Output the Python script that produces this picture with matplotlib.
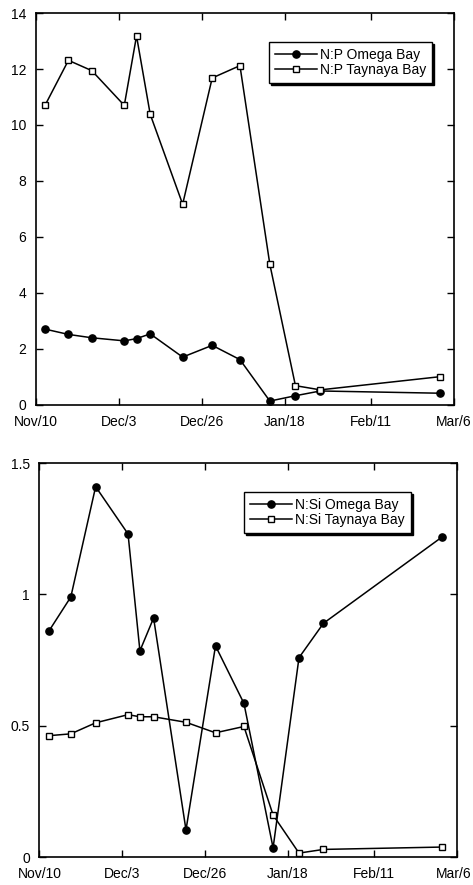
import matplotlib
matplotlib.use("Agg")
import matplotlib.pyplot as plt
import matplotlib.transforms as mtransforms

plt.rcParams['font.family'] = ['Liberation Sans', 'DejaVu Sans']

# sampling days, counted from Nov/10
days_np = [2.5, 9.0, 15.5, 24.5, 27.9, 31.7, 40.7, 48.9, 56.6, 64.9, 72.0, 78.9, 112.1]
days_nsi = [2.6, 8.7, 15.6, 24.6, 27.9, 31.7, 40.7, 48.9, 56.8, 64.9, 72.1, 78.9, 111.9]

np_omega = [2.71, 2.52, 2.40, 2.29, 2.37, 2.54, 1.71, 2.13, 1.62, 0.14, 0.33, 0.50, 0.42]
np_taynaya = [10.70, 12.31, 11.94, 10.70, 13.18, 10.38, 7.17, 11.68, 12.12, 5.02, 0.69, 0.54, 1.01]

nsi_omega = [0.86, 0.99, 1.41, 1.23, 0.785, 0.91, 0.103, 0.804, 0.585, 0.035, 0.759, 0.89, 1.219]
nsi_taynaya = [0.462, 0.469, 0.511, 0.542, 0.534, 0.534, 0.513, 0.473, 0.497, 0.160, 0.015, 0.029, 0.038]

tick_days = [0, 23, 46, 69, 93, 116]
tick_labels = ["Nov/10", "Dec/3", "Dec/26", "Jan/18", "Feb/11", "Mar/6"]


def style_axes(ax, yticks, ylabels, ylim):
	ax.set_xlim(0, 116)
	ax.set_ylim(*ylim)
	ax.set_xticks(tick_days)
	ax.set_xticklabels(tick_labels, fontsize=10)
	ax.set_yticks(yticks)
	ax.set_yticklabels(ylabels, fontsize=10)
	ax.tick_params(direction='in', top=True, right=True, length=5, width=1, pad=7)
	for s in ax.spines.values():
		s.set_linewidth(1.2)


def draw_panel(ax, days, omega, taynaya, names, legend_xy):
	ax.plot(days, omega, color='black', lw=1.1, marker='o', ms=5.2,
		mfc='black', mec='black', label=names[0], zorder=3)
	ax.plot(days, taynaya, color='black', lw=1.1, marker='s', ms=5,
		mfc='white', mec='black', mew=1, label=names[1], zorder=3)
	leg = ax.legend(loc='upper left', bbox_to_anchor=legend_xy, borderaxespad=0,
		fontsize=10, handlelength=3.0, handletextpad=0.2, labelspacing=0.05,
		borderpad=0.45, fancybox=False, framealpha=1, edgecolor='black',
		shadow={'color': 'black', 'alpha': 1, 'ox': 1.6, 'oy': -1.6})
	leg.get_frame().set_linewidth(1.0)


def main():
	fig = plt.figure(figsize=(4.73, 8.85), dpi=100)

	ax1 = fig.add_axes([0.0761, 0.5424, 0.8837, 0.4429])
	draw_panel(ax1, days_np, np_omega, np_taynaya,
		["N:P Omega Bay", "N:P Taynaya Bay"], (0.557, 0.927))
	style_axes(ax1, range(0, 15, 2), [str(v) for v in range(0, 15, 2)], (0, 14))

	ax2 = fig.add_axes([0.0835, 0.0316, 0.8827, 0.4452])
	draw_panel(ax2, days_nsi, nsi_omega, nsi_taynaya,
		["N:Si Omega Bay", "N:Si Taynaya Bay"], (0.490, 0.927))
	style_axes(ax2, [0, 0.5, 1, 1.5], ["0", "0.5", "1", "1.5"], (0, 1.5))

	# keep the last bottom label inside the figure edge
	last = ax2.get_xticklabels()[-1]
	shift = mtransforms.ScaledTranslation(-3 / 100, 0, fig.dpi_scale_trans)
	last.set_transform(last.get_transform() + shift)

	fig.savefig("out.png", dpi=100)
	plt.close(fig)


if __name__ == '__main__':
	main()
